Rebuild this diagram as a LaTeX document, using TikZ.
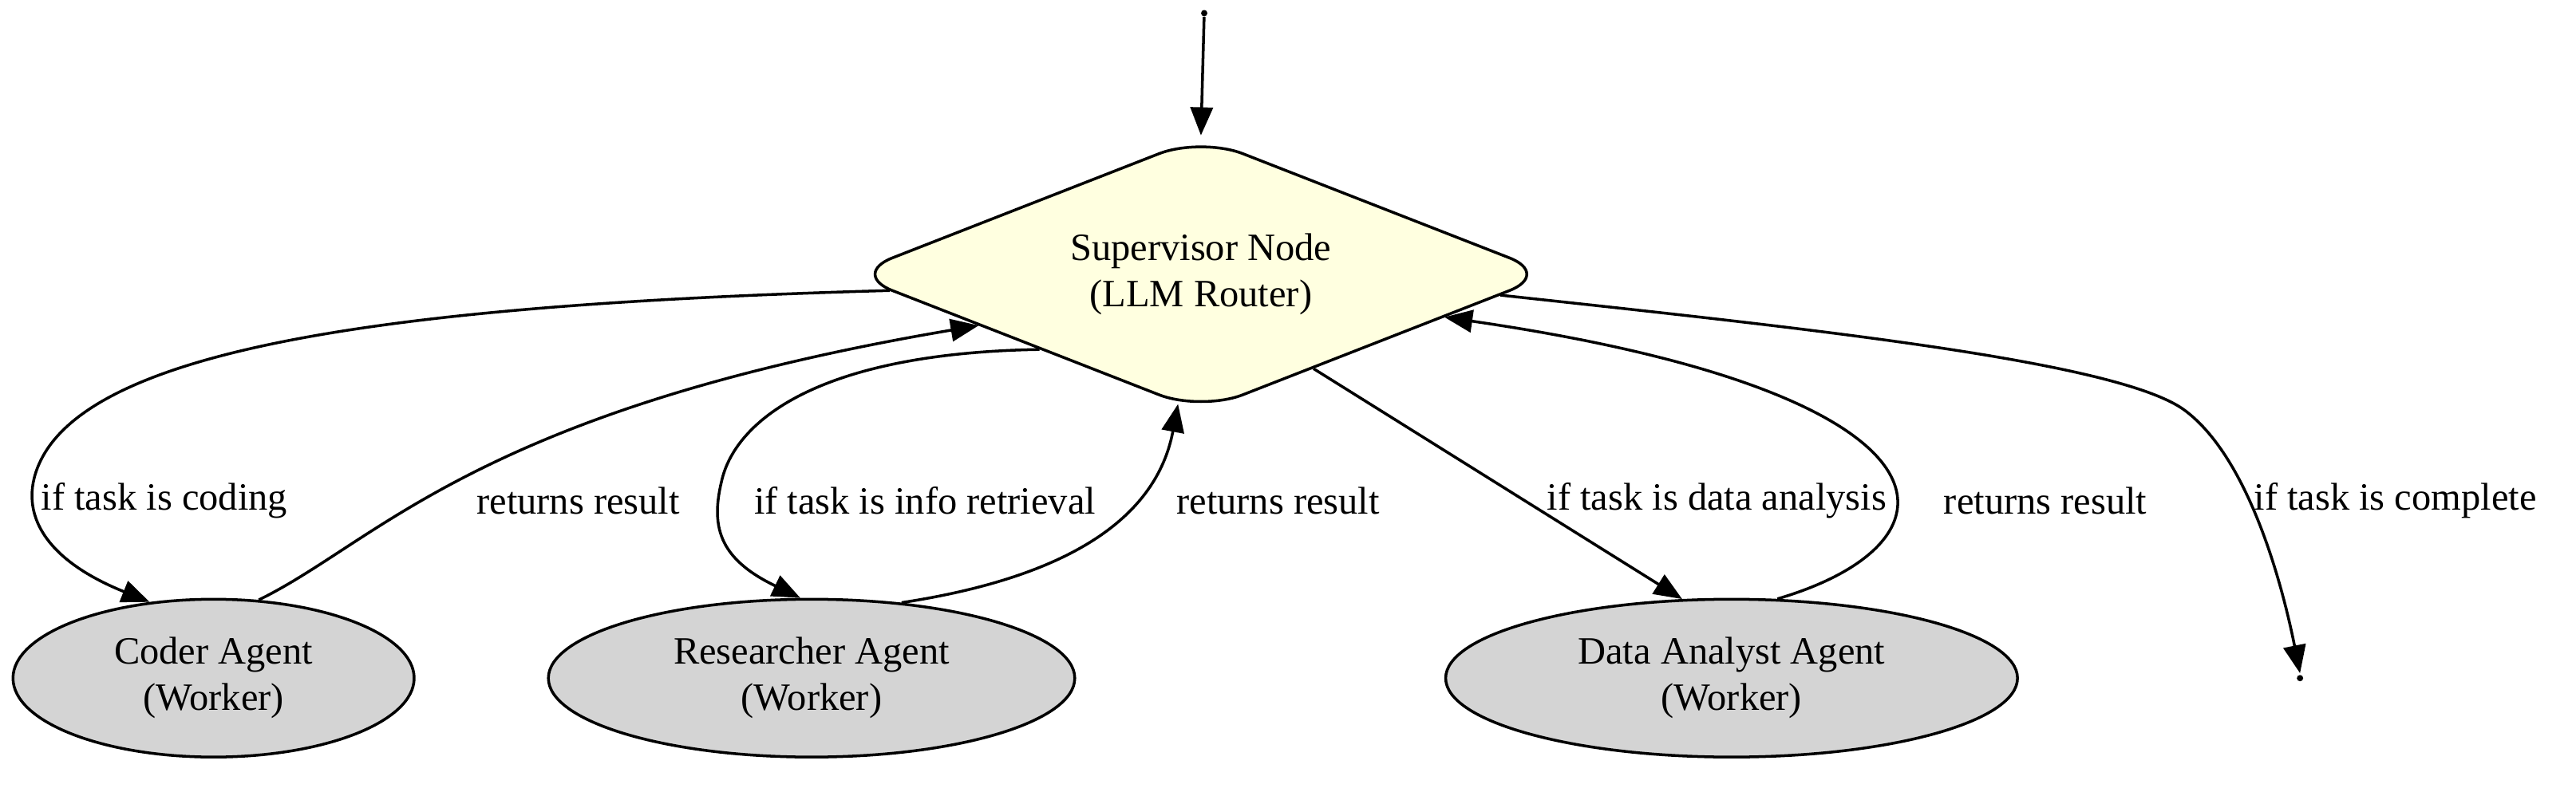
\documentclass[tikz,border=0pt]{standalone}
\usepackage{fontspec}
\setmainfont{Liberation Serif}
\usetikzlibrary{shapes.geometric,arrows.meta}
\begin{document}
\begin{tikzpicture}[x=0.0206cm,y=-0.0206cm,
  every node/.style={font=\fontsize{13.8}{16.5}\selectfont},
  worker/.style={ellipse,draw,line width=1pt,fill=black!17,align=center,minimum height=1.98cm},
  edge/.style={draw,line width=1pt,-{Triangle[length=10pt,width=8pt]}}]
\useasboundingbox (0,0) rectangle (1568,482);
\node[circle,fill,inner sep=0.8pt] (start) at (733,8) {};
\node[diamond,draw,line width=1pt,fill={rgb,255:red,255;green,255;blue,224},rounded corners=16pt,aspect=2.6,minimum width=8.8cm,minimum height=3.45cm,inner sep=0,align=center] (sup) at (731,167) {Supervisor Node\\(LLM Router)};
\node[worker,minimum width=5.03cm] (coder) at (130,413) {Coder Agent\\(Worker)};
\node[worker,minimum width=6.6cm] (res) at (494,413) {Researcher Agent\\(Worker)};
\node[worker,minimum width=7.17cm] (data) at (1054,413) {Data Analyst Agent\\(Worker)};
\node[circle,fill,inner sep=0.8pt] (end) at (1400,413) {};
\coordinate (endtip) at (1400,410);

\draw[edge] (start) -- (sup.north);
\draw[edge] (sup.183) .. controls (250,185) and (60,210) .. (25,280) .. controls (10,310) and (25,340) .. (coder.130);
\node at (100,305) {if task is coding};
\draw[edge] (coder.60) .. controls (230,330) and (290,250) .. (sup.193);
\node at (352,305) {returns result};
\draw[edge] (sup.205) .. controls (500,215) and (450,255) .. (440,290) .. controls (432,320) and (437,340) .. (res.98);
\node at (563,305) {if task is info retrieval};
\draw[edge] (res.40) .. controls (660,350) and (705,310) .. (sup.-100);
\node at (778,305) {returns result};
\draw[edge] (sup.-40) -- (data.122);
\node at (1045,305) {if task is data analysis};
\draw[edge] (data.60) .. controls (1200,330) and (1200,240) .. (sup.-10);
\node at (1245,305) {returns result};
\draw[edge] (sup.-4) .. controls (1100,200) and (1290,220) .. (1330,250) .. controls (1370,280) and (1390,360) .. (endtip);
\node at (1458,305) {if task is complete};
\end{tikzpicture}
\end{document}
